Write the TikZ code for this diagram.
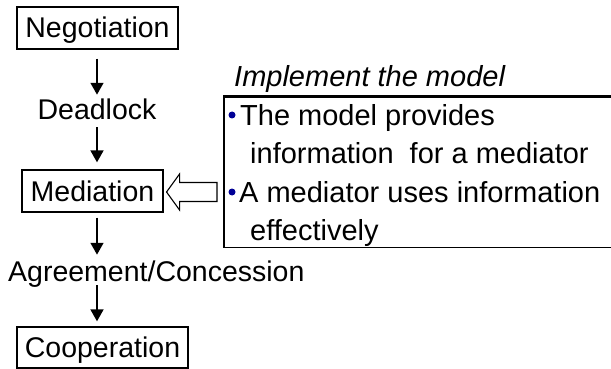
\documentclass[tikz,border=0pt]{standalone}
\usepackage{fontspec}
\setmainfont{Liberation Sans}
\usetikzlibrary{arrows.meta,calc}
\definecolor{bulletblue}{RGB}{0,0,150}
\begin{document}
\begin{tikzpicture}[x=1pt,y=-1pt,
  every node/.style={font=\fontsize{28.5}{34}\selectfont},
  stagebox/.style={draw,line width=1.1pt,inner sep=0pt,minimum height=42pt,text height=20pt,text depth=0pt},
  stagelabel/.style={inner sep=0pt,text height=20pt,text depth=0pt},
  flow/.style={line width=2.8pt,-{Triangle[length=12pt,width=12.5pt]}},
  itemtext/.style={anchor=base west,inner sep=0pt,font=\fontsize{29}{34}\selectfont},
  bulletdot/.style={circle,fill=bulletblue,inner sep=0pt,minimum size=7pt},
  hollow/.style={draw,line width=1.1pt,fill=white,line join=miter}]
\useasboundingbox (0,0) rectangle (611,369);
\clip (0,0) rectangle (611,369);
% left column
\node[stagebox,minimum width=161pt] (neg) at (97.5,28) {Negotiation};
\node[stagelabel] (dead) at (97,109.5) {Deadlock};
\node[stagebox,minimum width=141pt] (med) at (92.5,191) {Mediation};
\node[stagelabel,anchor=west] (agr) at (8,271.5) {Agreement/Concession};
\node[stagebox,minimum width=171pt,minimum height=41pt] (coop) at (102.5,347.5) {Cooperation};
\draw[flow,shorten <=9pt,shorten >=4.5pt] (dead.north |- neg.south) -- (dead.north);
\draw[flow,shorten <=7.5pt,shorten >=7pt] (dead.south) -- (dead.south |- med.north);
\draw[flow,shorten <=5pt,shorten >=6.5pt] (dead.south |- med.south) -- (dead.south |- agr.north);
\draw[flow,shorten <=3.5pt,shorten >=5pt] (dead.south |- agr.south) -- (dead.south |- coop.north);
% right box
\node[draw,line width=1.7pt,inner sep=0pt,minimum width=400pt,minimum height=150pt,anchor=north west] (imp) at (223,96.5) {};
\draw[line width=2.6pt] (imp.north west) -- (imp.north east);
\node[anchor=base west,inner sep=0pt,font=\fontsize{29}{34}\selectfont\itshape] (title) at (234,86.5) {Implement the model};
\node[itemtext] (l1) at (240,125) {The model provides};
\node[itemtext] (l2) at (250,163.5) {information\ \ for a mediator};
\node[itemtext] (l3) at (239,202) {A mediator uses information};
\node[itemtext] (l4) at (250,240) {effectively};
\node[bulletdot] (b1) at (232,115) {};
\node[bulletdot] (b3) at (b1 |- 0,192) {};
% hollow arrow from box to Mediation
\coordinate (tip) at ($(med.east)+(3,1)$);
\draw[hollow] (tip) -- ++(13,-18) -- ++(0,8.5) -- ($(imp.west |- tip)+(-6,-9.5)$) -- ++(0,19) -- ($(tip)+(13,9.5)$) -- ++(0,8.5) -- cycle;
\end{tikzpicture}
\end{document}
